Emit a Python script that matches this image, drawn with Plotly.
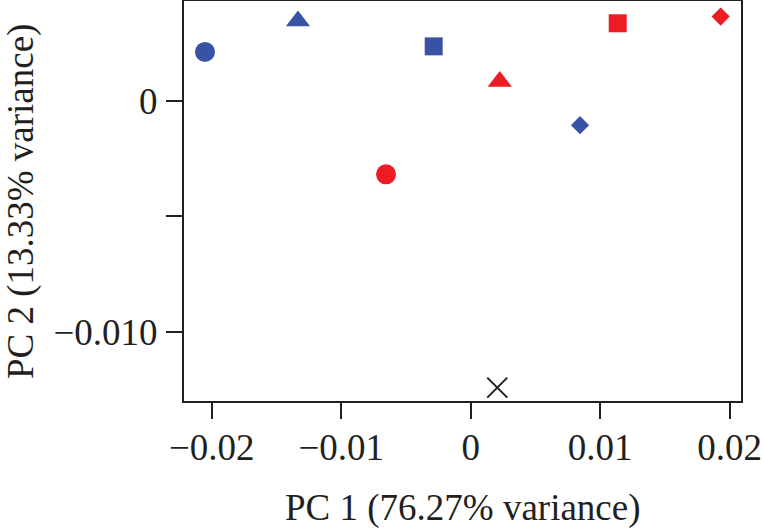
import plotly.graph_objects as go

# Data
pc1 = [-0.02052, -0.01334, -0.00286, 0.00224, 0.00844, -0.00654, 0.01135, 0.01930, 0.00205]
pc2 = [0.00213, 0.00347, 0.00237, 0.00085, -0.00105, -0.00318, 0.00337, 0.00366, -0.01243]
colors = ["#3953a4", "#3953a4", "#3953a4", "#ed1c24", "#3953a4", "#ed1c24", "#ed1c24", "#ed1c24", "#231f20"]
symbols = ["circle", "triangle-up", "square", "triangle-up", "diamond", "circle", "square", "diamond", "x-thin-open"]
sizes = [20, 21, 18, 21, 14, 20, 18, 14, 20]

x_ticks = [-0.02, -0.01, 0, 0.01, 0.02]
x_tick_text = ["\u22120.02", "\u22120.01", "0", "0.01", "0.02"]
y_ticks = [0, -0.005, -0.010]
y_tick_text = ["0", "", "\u22120.010"]

x_range = [-0.02214, 0.02087]
y_range = [-0.01301, 0.004337]

x_title = "PC 1 (76.27% variance)"
y_title = "PC 2 (13.33% variance)"

font_family = "Liberation Serif, Times New Roman, serif"
ink = "#231f20"

fig = go.Figure()
fig.add_trace(go.Scatter(
    x=pc1, y=pc2, mode="markers",
    marker=dict(color=colors, symbol=symbols, size=sizes, opacity=1,
                line=dict(width=[0]*8 + [2], color=colors)),
    showlegend=False, hoverinfo="skip", cliponaxis=False,
))

axis_common = dict(
    showgrid=False, zeroline=False, showline=True, mirror=True,
    linecolor=ink, linewidth=2, automargin=False,
    ticks="outside", ticklen=16, tickwidth=2, tickcolor=ink,
    tickfont=dict(family=font_family, size=37, color=ink),
)

fig.update_xaxes(range=x_range, tickvals=x_ticks, ticktext=x_tick_text,
                 ticklabelstandoff=-3, **axis_common)
fig.update_yaxes(range=y_range, tickvals=y_ticks, ticktext=y_tick_text,
                 ticklabelstandoff=1, **axis_common)

fig.add_annotation(text=x_title, xref="paper", yref="paper", x=0.5, y=-0.2675,
                   xanchor="center", yanchor="middle", showarrow=False,
                   font=dict(family=font_family, size=37, color=ink))
fig.add_annotation(text=y_title, xref="paper", yref="paper", x=-0.2925, y=0.5,
                   xanchor="center", yanchor="middle", showarrow=False, textangle=-90,
                   font=dict(family=font_family, size=37, color=ink))

fig.update_layout(
    width=763, height=528,
    margin=dict(l=184, r=22, t=1, b=127),
    plot_bgcolor="white", paper_bgcolor="white",
)

fig.write_html("out.html", config={"displayModeBar": False},
               post_script="document.body.style.margin='0';document.body.style.padding='0';")
